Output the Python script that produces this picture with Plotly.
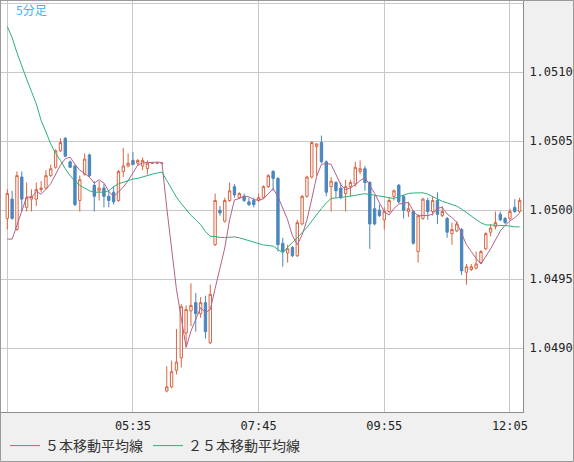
import plotly.graph_objects as go

# 5-minute bars from 03:25 to 12:15
times = [f"{(205 + 5 * i) // 60:02d}:{(205 + 5 * i) % 60:02d}" for i in range(107)]

opens = [1.04994, 1.05008, 1.04986, 1.05024, 1.05002, 1.05008, 1.05008, 1.05015, 1.05016, 1.05025,
         1.05031, 1.05043, 1.05052, 1.05035, 1.05032, 1.05007, 1.05026, 1.05040, 1.05018, 1.05014,
         1.05016, 1.05010, 1.05013, 1.05007, 1.05028, 1.05032, 1.05036, 1.05034, 1.05032, 1.05030,
         1.05034, 1.05034, 1.05034, 1.04869, 1.04872, 1.04884, 1.04893, 1.04911, 1.04927, 1.04933,
         1.04925, 1.04933, 1.04904, 1.04975, 1.05000, 1.04992, 1.05007, 1.05017, 1.05009, 1.05010,
         1.05006, 1.05007, 1.05007, 1.05009, 1.05017, 1.05028, 1.05023, 1.04976, 1.04969, 1.04973,
         1.04967, 1.04990, 1.05010, 1.05024, 1.05046, 1.05049, 1.05035, 1.05017, 1.05020, 1.05016,
         1.05012, 1.05017, 1.05019, 1.05028, 1.05030, 1.05020, 1.05001, 1.05000, 1.04993, 1.04999,
         1.05010, 1.05018, 1.05010, 1.04999, 1.04999, 1.04970, 1.04994, 1.05007, 1.04999, 1.05007,
         1.04996, 1.04994, 1.04983, 1.04985, 1.04986, 1.04955, 1.04957, 1.04958, 1.04962, 1.04972,
         1.04984, 1.04988, 1.04997, 1.04994, 1.04994, 1.05002, 1.04999]
highs = [1.05015, 1.05014, 1.05028, 1.05028, 1.05020, 1.05015, 1.05020, 1.05021, 1.05029, 1.05033,
         1.05044, 1.05052, 1.05053, 1.05036, 1.05033, 1.05025, 1.05041, 1.05041, 1.05021, 1.05021,
         1.05019, 1.05014, 1.05017, 1.05029, 1.05045, 1.05041, 1.05042, 1.05037, 1.05038, 1.05036,
         1.05034, 1.05034, 1.05034, 1.04887, 1.04891, 1.04914, 1.04932, 1.04931, 1.04947, 1.04940,
         1.04937, 1.04938, 1.04946, 1.05012, 1.05003, 1.05009, 1.05020, 1.05019, 1.05013, 1.05012,
         1.05009, 1.05009, 1.05012, 1.05018, 1.05026, 1.05029, 1.05024, 1.04980, 1.04975, 1.04974,
         1.04993, 1.05011, 1.05025, 1.05050, 1.05048, 1.05054, 1.05036, 1.05024, 1.05021, 1.05020,
         1.05022, 1.05022, 1.05035, 1.05036, 1.05032, 1.05021, 1.05011, 1.05004, 1.05002, 1.05009,
         1.05015, 1.05019, 1.05011, 1.05006, 1.05000, 1.04997, 1.05009, 1.05009, 1.05010, 1.05013,
         1.05003, 1.04995, 1.04991, 1.04992, 1.04987, 1.04961, 1.04961, 1.04970, 1.04971, 1.04984,
         1.04990, 1.04999, 1.04999, 1.04995, 1.05001, 1.05008, 1.05009]
lows = [1.04986, 1.04993, 1.04985, 1.04999, 1.04999, 1.04999, 1.05003, 1.05013, 1.05015, 1.05024,
        1.05030, 1.05042, 1.05039, 1.05031, 1.05003, 1.04999, 1.05025, 1.05024, 1.04999, 1.05007,
        1.05002, 1.05002, 1.05004, 1.05006, 1.05024, 1.05031, 1.05033, 1.05032, 1.05029, 1.05026,
        1.05034, 1.05034, 1.05034, 1.04868, 1.04871, 1.04881, 1.04886, 1.04901, 1.04916, 1.04912,
        1.04922, 1.04907, 1.04903, 1.04974, 1.04996, 1.04991, 1.05006, 1.05009, 1.05008, 1.05006,
        1.05003, 1.05002, 1.05006, 1.05008, 1.05016, 1.05014, 1.04970, 1.04959, 1.04962, 1.04966,
        1.04966, 1.04989, 1.05009, 1.05023, 1.05025, 1.05034, 1.05010, 1.04999, 1.05009, 1.05008,
        1.04999, 1.05010, 1.05017, 1.05026, 1.05014, 1.04972, 1.04989, 1.04995, 1.04986, 1.04998,
        1.05007, 1.05005, 1.04994, 1.04995, 1.04975, 1.04962, 1.04993, 1.04993, 1.04996, 1.04990,
        1.04995, 1.04980, 1.04975, 1.04984, 1.04953, 1.04946, 1.04956, 1.04957, 1.04961, 1.04971,
        1.04981, 1.04986, 1.04992, 1.04990, 1.04993, 1.04998, 1.04998]
closes = [1.05012, 1.04994, 1.05025, 1.05008, 1.05009, 1.05010, 1.05015, 1.05016, 1.05025, 1.05030,
          1.05043, 1.05049, 1.05039, 1.05031, 1.05004, 1.05022, 1.05037, 1.05025, 1.05010, 1.05016,
          1.05010, 1.05007, 1.05006, 1.05028, 1.05032, 1.05034, 1.05033, 1.05036, 1.05036, 1.05034,
          1.05034, 1.05034, 1.05034, 1.04872, 1.04883, 1.04890, 1.04930, 1.04928, 1.04931, 1.04925,
          1.04933, 1.04912, 1.04939, 1.05007, 1.04998, 1.05007, 1.05014, 1.05011, 1.05012, 1.05007,
          1.05004, 1.05004, 1.05009, 1.05017, 1.05025, 1.05023, 1.04975, 1.04970, 1.04972, 1.04967,
          1.04991, 1.05010, 1.05024, 1.05049, 1.05048, 1.05035, 1.05013, 1.05021, 1.05014, 1.05009,
          1.05017, 1.05020, 1.05031, 1.05030, 1.05020, 1.04990, 1.04990, 1.04996, 1.04999, 1.05007,
          1.05014, 1.05006, 1.05000, 1.05001, 1.04976, 1.04996, 1.05008, 1.04999, 1.05007, 1.04997,
          1.04999, 1.04984, 1.04986, 1.04990, 1.04956, 1.04959, 1.04959, 1.04961, 1.04970, 1.04983,
          1.04987, 1.04991, 1.04993, 1.04991, 1.04999, 1.04999, 1.05007]

# moving-average values at the first bars (depend on bars before the window)
ma5_head = [1.04979, 1.04979, 1.04989, 1.05000]
ma25_head = [1.05133, 1.05125, 1.05114, 1.05104, 1.05095, 1.05086, 1.05077, 1.05065,
             1.05056, 1.05048, 1.05041, 1.05036, 1.05030, 1.05025, 1.05021, 1.05018,
             1.05016, 1.05014, 1.05013, 1.05013, 1.05013, 1.05014, 1.05017, 1.05019]

tick_vals = ["03:25", "05:35", "07:45", "09:55", "12:05"]
tick_text = ["", "05:35", "07:45", "09:55", "12:05"]


def sma(vals, n, head):
    out = list(head)
    for i in range(len(head), len(vals)):
        out.append(sum(vals[i - n + 1:i + 1]) / n)
    return out


ma5 = sma(closes, 5, ma5_head)
ma25 = sma(closes, 25, ma25_head)

UP = "#DC6440"
DOWN = "#4A86BE"
MA5C = "#B4608C"
MA25C = "#2DB07A"

fig = go.Figure()
fig.add_trace(go.Candlestick(
    x=times, open=opens, high=highs, low=lows, close=closes,
    increasing=dict(line=dict(color=UP, width=1), fillcolor="white"),
    decreasing=dict(line=dict(color=DOWN, width=1), fillcolor=DOWN),
    whiskerwidth=0, showlegend=False, hoverinfo="skip"))
fig.add_trace(go.Scatter(x=times, y=ma5, mode="lines", name="５本移動平均線",
                         line=dict(color=MA5C, width=1)))
fig.add_trace(go.Scatter(x=times, y=ma25, mode="lines", name="２５本移動平均線",
                         line=dict(color=MA25C, width=1)))

W, H = 574, 462
ML, MR, MT, MB = 1, 51, 0, 50
PW, PH = W - ML - MR, H - MT - MB

fig.update_layout(
    width=W, height=H,
    margin=dict(l=ML, r=MR, t=MT, b=MB, pad=0),
    paper_bgcolor="#F0F0F0", plot_bgcolor="white",
    font=dict(family="DejaVu Sans Mono", size=12, color="#222222"),
    showlegend=True,
    legend=dict(orientation="h", x=4 / PW, xanchor="left", y=(PH - 446) / PH, yanchor="middle",
                font=dict(family="Noto Sans CJK JP", size=14, color="#333333"),
                bgcolor="rgba(0,0,0,0)", itemwidth=30),
    hovermode=False,
    xaxis=dict(type="category", range=[-1.3, 106.7], rangeslider=dict(visible=False),
               tickmode="array", tickvals=tick_vals, ticktext=tick_text,
               showgrid=True, gridcolor="#C8C8C8", gridwidth=1,
               showline=True, mirror=True, linecolor="#8C8C8C", linewidth=1,
               ticks="", ticklabelstandoff=3,
               tickfont=dict(family="DejaVu Sans Mono", size=12, color="#222222"),
               zeroline=False),
    yaxis=dict(side="right", range=[1.048538, 1.051522], dtick=0.0005, tick0=1.0490,
               tickformat=".4f", showgrid=True, gridcolor="#C8C8C8", gridwidth=1,
               showline=True, mirror=True, linecolor="#8C8C8C", linewidth=1,
               ticks="", ticklabelstandoff=3,
               tickfont=dict(family="DejaVu Sans Mono", size=12, color="#222222"),
               zeroline=False),
    annotations=[dict(text="5分足", xref="paper", yref="paper",
                      x=(14 - ML) / PW, y=(PH - 10) / PH, xanchor="left", yanchor="middle",
                      showarrow=False,
                      font=dict(family="Noto Sans CJK JP", size=12, color="#3CB4F0"))],
    shapes=[dict(type="rect", xref="paper", yref="paper",
                 x0=(0.5 - ML) / PW, x1=(W - 0.5 - ML) / PW,
                 y0=(PH - (H - 0.5 - MT)) / PH, y1=(PH + MT - 0.5) / PH,
                 line=dict(color="#9A9A9A", width=1), fillcolor="rgba(0,0,0,0)",
                 layer="above")],
)

fig.write_html("out.html", config={"displayModeBar": False},
               post_script="document.body.style.margin='0';document.body.style.overflow='hidden';")
